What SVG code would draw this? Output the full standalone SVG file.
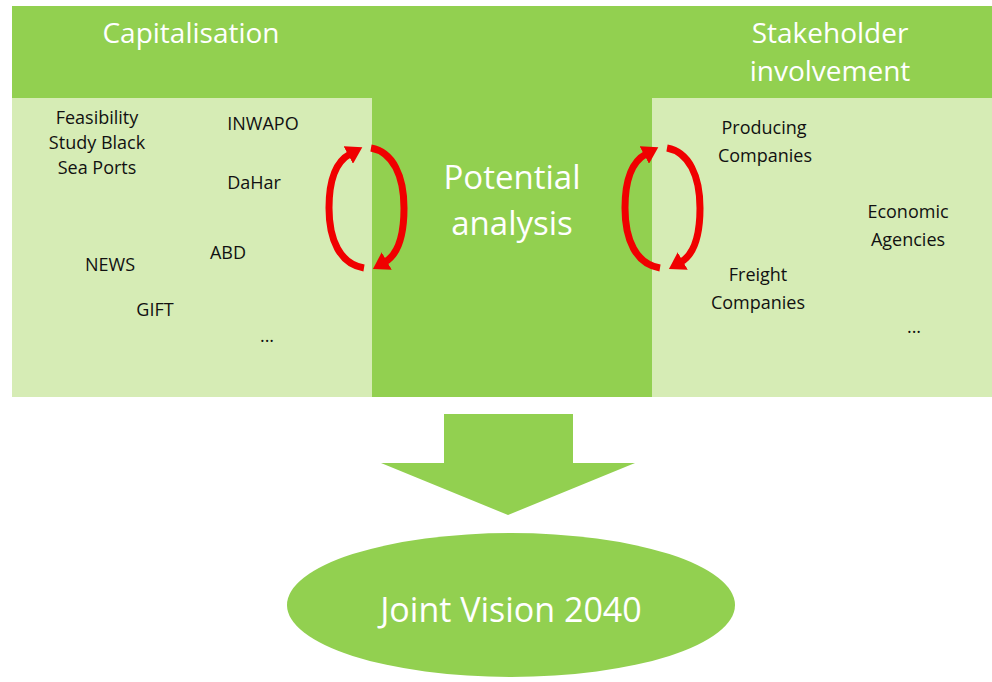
<svg xmlns="http://www.w3.org/2000/svg" width="992" height="682" viewBox="0 0 992 682">
<defs>
<style>
.dark{fill:#92D050}
.light{fill:#D6ECB5}
.hd{font-family:"Open Sans","Liberation Sans",sans-serif;fill:#fff;text-anchor:middle}
.lb{font-family:"Open Sans","Liberation Sans",sans-serif;fill:#111;font-size:18px;text-anchor:middle}
.arc{fill:none;stroke:#F00000;stroke-width:7;marker-end:url(#ah)}
</style>
<marker id="ah" markerUnits="userSpaceOnUse" markerWidth="18" markerHeight="20" refX="2" refY="10" orient="auto">
<path d="M0,0 L16,10 L0,20 z" fill="#F00000"/>
</marker>
</defs>
<rect width="992" height="682" fill="#fff"/>
<g id="capitalisation">
<rect class="dark" x="12" y="6" width="360" height="92"/>
<rect class="light" x="12" y="98" width="360" height="299"/>
<text class="hd" x="191" y="43" font-size="28">Capitalisation</text>
<text class="lb" x="97" y="124">Feasibility</text>
<text class="lb" x="97" y="149">Study Black</text>
<text class="lb" x="97" y="174">Sea Ports</text>
<text class="lb" x="263" y="130">INWAPO</text>
<text class="lb" x="254" y="189">DaHar</text>
<text class="lb" x="228" y="259">ABD</text>
<text class="lb" x="110" y="271">NEWS</text>
<text class="lb" x="155" y="316">GIFT</text>
<text class="lb" x="267" y="342">...</text>
</g>
<g id="potential-analysis">
<rect class="dark" x="372" y="6" width="280" height="391"/>
<text class="hd" x="512" y="189" font-size="33">Potential</text>
<text class="hd" x="512" y="235" font-size="33">analysis</text>
</g>
<g id="stakeholder-involvement">
<rect class="dark" x="652" y="6" width="340" height="92"/>
<rect class="light" x="652" y="98" width="340" height="299"/>
<text class="hd" x="830" y="43" font-size="28">Stakeholder</text>
<text class="hd" x="830" y="81" font-size="28">involvement</text>
<text class="lb" x="764" y="134">Producing</text>
<text class="lb" x="765" y="162">Companies</text>
<text class="lb" x="908" y="218">Economic</text>
<text class="lb" x="908" y="246">Agencies</text>
<text class="lb" x="758" y="281">Freight</text>
<text class="lb" x="758" y="309">Companies</text>
<text class="lb" x="914" y="333">...</text>
</g>
<g id="connectors">
<g id="cycle-left">
<path class="arc" d="M 364 268 C 340 264, 329 240, 329 208 C 329 178, 337 161, 350 154"/>
<path class="arc" d="M 371 148 C 393 152, 404 176, 404 208 C 404 238, 397 255, 385 262"/>
</g>
<g id="cycle-right" transform="translate(296,0)">
<path class="arc" d="M 364 268 C 340 264, 329 240, 329 208 C 329 178, 337 161, 350 154"/>
<path class="arc" d="M 371 148 C 393 152, 404 176, 404 208 C 404 238, 397 255, 385 262"/>
</g>
<path id="down-arrow" class="dark" d="M 444 414 L 573 414 L 573 463 L 635 463 L 508 515 L 381 463 L 444 463 z"/>
</g>
<g id="joint-vision">
<ellipse class="dark" cx="511" cy="605" rx="224" ry="72"/>
<text class="hd" x="511" y="622" font-size="34">Joint Vision 2040</text>
</g>
</svg>
